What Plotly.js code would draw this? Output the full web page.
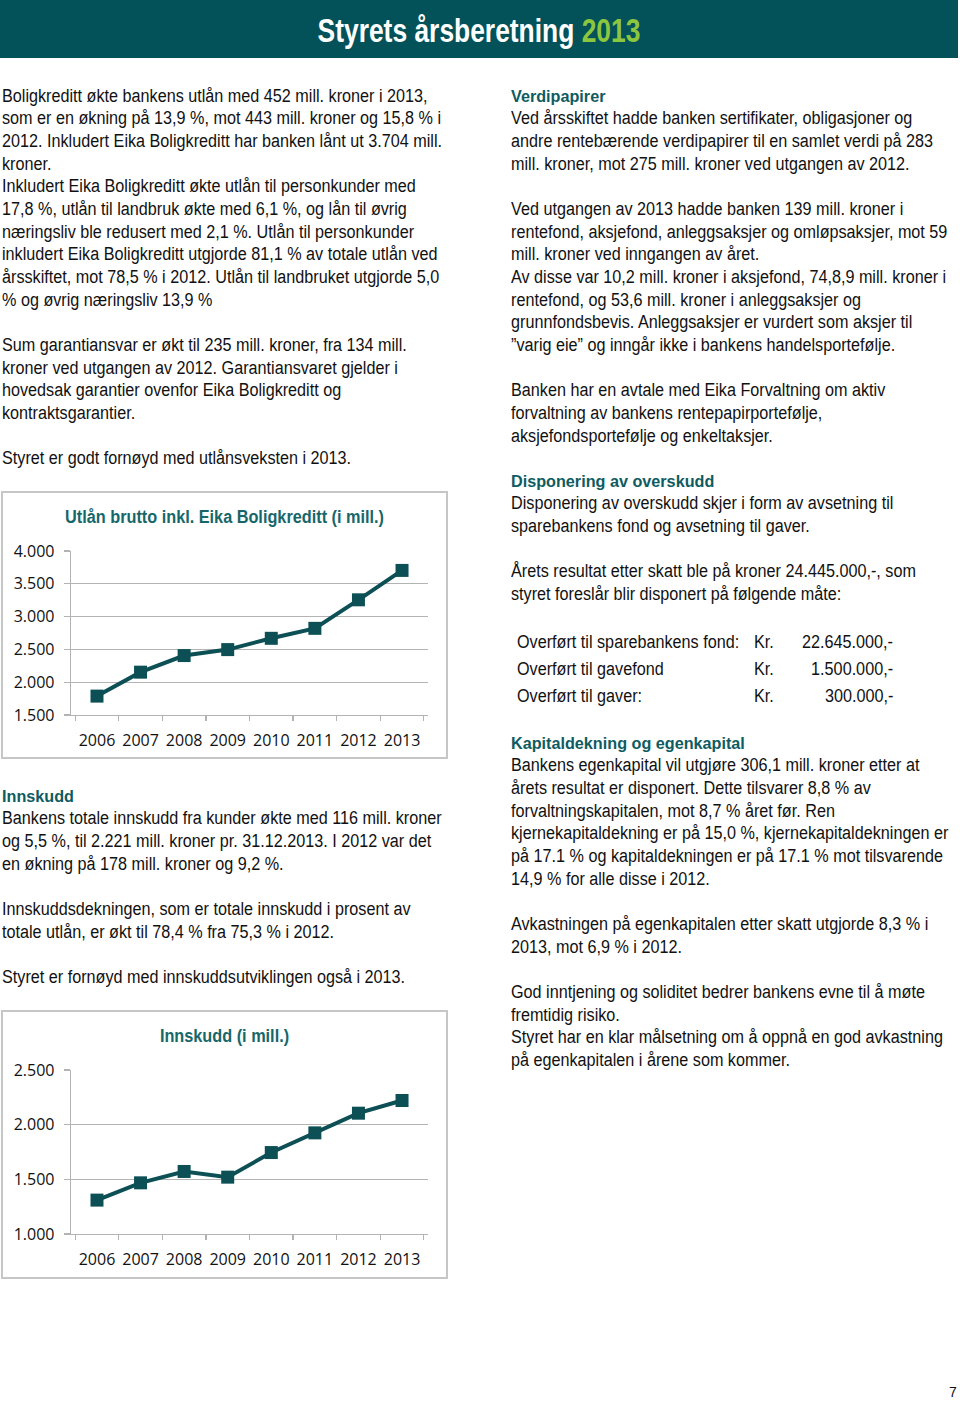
<!DOCTYPE html>
<html>
<head>
<meta charset="utf-8">
<script src="https://cdn.plot.ly/plotly-3.0.1.min.js"></script>
<style>
  html, body { margin:0; padding:0; background:#fff; }
  body { width:960px; height:1401px; position:relative; overflow:hidden;
         font-family:"Liberation Sans",Arial,sans-serif; color:#111; }
  .band { position:absolute; left:0; top:0; width:958px; height:58px; background:#03525a; }
  .band .t { position:absolute; left:0; width:958px; top:12px; text-align:center; font-weight:bold;
             font-size:33px; line-height:38px; color:#fff; transform:scaleX(0.8); transform-origin:479px 0; }
  .band .t span { color:#8cc63f; }
  .n { position:absolute; font-size:17.6px; line-height:22.65px; white-space:nowrap;
       transform:scaleX(0.92); transform-origin:0 0; }
  .h { position:absolute; font-weight:bold; color:#0e5c62; font-size:16.2px; line-height:22.65px; white-space:nowrap; }
  .box { position:absolute; left:1px; width:443px; border:2px solid #c6c6c6; background:#fff; }
  .cell { position:absolute; font-size:17.6px; line-height:27px; white-space:nowrap; transform:scaleX(0.92); transform-origin:0 0; }
  .cellr { position:absolute; font-size:17.6px; line-height:27px; white-space:nowrap; text-align:right;
           transform:scaleX(0.92); transform-origin:100% 0; }
  .pg { position:absolute; left:949px; top:1384px; font-size:14px; }
</style>
</head>
<body>
<div class="band"><div class="t">Styrets årsberetning <span>2013</span></div></div>

<div class="n" style="left:2px;top:84.7px;">Boligkreditt økte bankens utlån med 452 mill. kroner i 2013,<br>som er en økning på 13,9 %, mot 443 mill. kroner og 15,8 % i<br>2012. Inkludert Eika Boligkreditt har banken lånt ut 3.704 mill.<br>kroner.<br>Inkludert Eika Boligkreditt økte utlån til personkunder med<br>17,8 %, utlån til landbruk økte med 6,1 %, og lån til øvrig<br>næringsliv ble redusert med 2,1 %. Utlån til personkunder<br>inkludert Eika Boligkreditt utgjorde 81,1 % av totale utlån ved<br>årsskiftet, mot 78,5 % i 2012. Utlån til landbruket utgjorde 5,0<br>% og øvrig næringsliv 13,9 %<br><br>Sum garantiansvar er økt til 235 mill. kroner, fra 134 mill.<br>kroner ved utgangen av 2012. Garantiansvaret gjelder i<br>hovedsak garantier ovenfor Eika Boligkreditt og<br>kontraktsgarantier.<br><br>Styret er godt fornøyd med utlånsveksten i 2013.</div>

<div class="box" style="top:491px;height:264px;"><div id="c1" style="width:443px;height:264px;"></div></div>

<div class="h" style="left:2px;top:784.7px;">Innskudd</div>
<div class="n" style="left:2px;top:807.35px;">Bankens totale innskudd fra kunder økte med 116 mill. kroner<br>og 5,5 %, til 2.221 mill. kroner pr. 31.12.2013. I 2012 var det<br>en økning på 178 mill. kroner og 9,2 %.<br><br>Innskuddsdekningen, som er totale innskudd i prosent av<br>totale utlån, er økt til 78,4 % fra 75,3 % i 2012.<br><br>Styret er fornøyd med innskuddsutviklingen også i 2013.</div>

<div class="box" style="top:1010px;height:265px;"><div id="c2" style="width:443px;height:265px;"></div></div>

<div class="h" style="left:511px;top:84.7px;">Verdipapirer</div>
<div class="n" style="left:511px;top:107.35px;">Ved årsskiftet hadde banken sertifikater, obligasjoner og<br>andre rentebærende verdipapirer til en samlet verdi på 283<br>mill. kroner, mot 275 mill. kroner ved utgangen av 2012.<br><br>Ved utgangen av 2013 hadde banken 139 mill. kroner i<br>rentefond, aksjefond, anleggsaksjer og omløpsaksjer, mot 59<br>mill. kroner ved inngangen av året.<br>Av disse var 10,2 mill. kroner i aksjefond, 74,8,9 mill. kroner i<br>rentefond, og 53,6 mill. kroner i anleggsaksjer og<br>grunnfondsbevis. Anleggsaksjer er vurdert som aksjer til<br>”varig eie” og inngår ikke i bankens handelsportefølje.<br><br>Banken har en avtale med Eika Forvaltning om aktiv<br>forvaltning av bankens rentepapirportefølje,<br>aksjefondsportefølje og enkeltaksjer.</div>

<div class="h" style="left:511px;top:469.75px;">Disponering av overskudd</div>
<div class="n" style="left:511px;top:492.4px;">Disponering av overskudd skjer i form av avsetning til<br>sparebankens fond og avsetning til gaver.<br><br>Årets resultat etter skatt ble på kroner 24.445.000,-, som<br>styret foreslår blir disponert på følgende måte:</div>

<div class="cell" style="left:517px;top:628.5px;">Overført til sparebankens fond:</div>
<div class="cell" style="left:754px;top:628.5px;">Kr.</div>
<div class="cellr" style="right:67px;top:628.5px;">22.645.000,-</div>
<div class="cell" style="left:517px;top:655.5px;">Overført til gavefond</div>
<div class="cell" style="left:754px;top:655.5px;">Kr.</div>
<div class="cellr" style="right:67px;top:655.5px;">1.500.000,-</div>
<div class="cell" style="left:517px;top:682.5px;">Overført til gaver:</div>
<div class="cell" style="left:754px;top:682.5px;">Kr.</div>
<div class="cellr" style="right:67px;top:682.5px;">300.000,-</div>

<div class="h" style="left:511px;top:731.7px;">Kapitaldekning og egenkapital</div>
<div class="n" style="left:511px;top:754.35px;">Bankens egenkapital vil utgjøre 306,1 mill. kroner etter at<br>årets resultat er disponert. Dette tilsvarer 8,8 % av<br>forvaltningskapitalen, mot 8,7 % året før. Ren<br>kjernekapitaldekning er på 15,0 %, kjernekapitaldekningen er<br>på 17.1 % og kapitaldekningen er på 17.1 % mot tilsvarende<br>14,9 % for alle disse i 2012.<br><br>Avkastningen på egenkapitalen etter skatt utgjorde 8,3 % i<br>2013, mot 6,9 % i 2012.<br><br>God inntjening og soliditet bedrer bankens evne til å møte<br>fremtidig risiko.<br>Styret har en klar målsetning om å oppnå en god avkastning<br>på egenkapitalen i årene som kommer.</div>

<div class="pg">7</div>

<script>
const years = ['2006','2007','2008','2009','2010','2011','2012','2013'];
const utlan = [1788, 2153, 2406, 2497, 2669, 2821, 3256, 3704];
const innskudd = [1310, 1468, 1572, 1520, 1745, 1925, 2105, 2221];
const title1 = 'Utlån brutto inkl. Eika Boligkreditt (i mill.)';
const title2 = 'Innskudd (i mill.)';
const yTicks1 = [1500, 2000, 2500, 3000, 3500, 4000];
const yTicks2 = [1000, 1500, 2000, 2500];

const lineCol = '#0c5056';
const gridCol = '#b3b3b3';
const tickFont = {family:'"Open Sans", "Noto Sans", sans-serif', size:16, color:'#111'};

function mk(id, y, ticks, title, h, b) {
  const trace = {
    x: years, y: y, type:'scatter', mode:'lines+markers',
    line:{color:lineCol, width:4},
    marker:{symbol:'square', size:13, color:lineCol},
    hoverinfo:'skip'
  };
  const layout = {
    width:443, height:h,
    margin:{l:68, r:18, t:58, b:b},
    paper_bgcolor:'#fff', plot_bgcolor:'#fff',
    separators:',.',
    showlegend:false,
    title:{text:title, x:0.5, xanchor:'center', y:1-24/h, yanchor:'middle', yref:'container',
           font:{family:'"Liberation Sans", Arial, sans-serif', size:18.5, color:'#17676a', weight:'bold'}},
    xaxis:{type:'category', tickson:'boundaries', ticks:'outside', ticklen:5, tickcolor:gridCol, tickwidth:1.3,
           tickangle:0, showline:true, linecolor:gridCol, linewidth:1.3, showgrid:false, zeroline:false,
           tickfont:tickFont, ticklabelstandoff:10, fixedrange:true},
    yaxis:{range:[ticks[0], ticks[ticks.length-1]], tickvals:ticks, tickformat:',', ticks:'outside', ticklen:6,
           tickcolor:gridCol, tickwidth:1.3, showline:true, linecolor:gridCol, linewidth:1.3,
           showgrid:true, gridcolor:gridCol, gridwidth:1.3, zeroline:false,
           tickfont:tickFont, ticklabelstandoff:6, fixedrange:true}
  };
  return Plotly.newPlot(id, [trace], layout, {staticPlot:true, displayModeBar:false}).then(function(gd){
    const t = gd.querySelector('.gtitle');
    if (t) {
      t.style.transformBox = 'fill-box';
      t.style.transformOrigin = 'center';
      t.style.transform = 'scaleX(0.88)';
    }
  });
}
mk('c1', utlan, yTicks1, title1, 264, 42);
mk('c2', innskudd, yTicks2, title2, 265, 43);
</script>
</body>
</html>
